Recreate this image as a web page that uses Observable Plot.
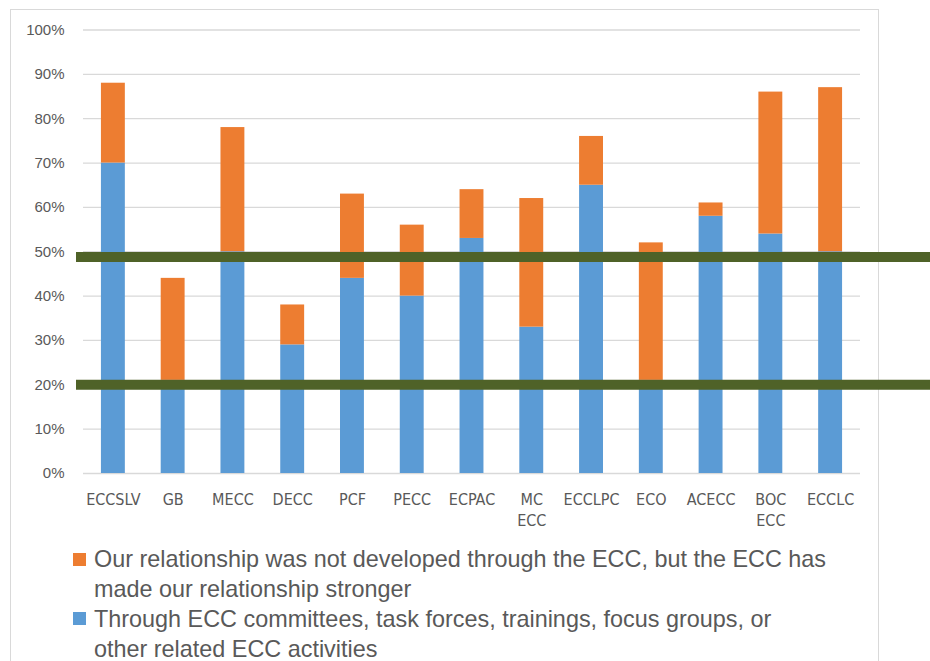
<!DOCTYPE html>
<html>
<head>
<meta charset="utf-8">
<script src="https://cdn.jsdelivr.net/npm/d3@7"></script>
<script src="https://cdn.jsdelivr.net/npm/@observablehq/plot@0.6"></script>
<style>
  body { margin: 0; background: #fff; }
  #wrap { position: relative; width: 930px; height: 661px; overflow: hidden; background: #fff; }
  #border { position: absolute; left: 10px; top: 9px; width: 867px; height: 700px; border: 1px solid #d9d9d9; }
  #chart { position: absolute; left: 0; top: 0; }
  #legend { position: absolute; left: 73px; top: 543.5px; font-family: "Liberation Sans", Arial, sans-serif; font-size: 23.4px; line-height: 30px; color: #595959; white-space: nowrap; }
  .item { position: relative; padding-left: 21px; }
  .sw { position: absolute; left: 0; width: 13px; height: 13px; }
</style>
</head>
<body>
<div id="wrap">
  <div id="border"></div>
  <div id="chart"></div>
  <div id="legend"></div>
</div>
<script>
const categories = ["ECCSLV", "GB", "MECC", "DECC", "PCF", "PECC", "ECPAC", "MC\nECC", "ECCLPC", "ECO", "ACECC", "BOC\nECC", "ECCLC"];
const throughECC = [70, 21, 50, 29, 44, 40, 53, 33, 65, 21, 58, 54, 50];
const madeStronger = [18, 23, 28, 9, 19, 16, 11, 29, 11, 31, 3, 32, 37];
const seriesNames = [
  "Through ECC committees, task forces, trainings, focus groups, or other related ECC activities",
  "Our relationship was not developed through the ECC, but the ECC has made our relationship stronger"
];
const seriesColors = ["#5b9bd5", "#ed7d31"];
const yTicks = [0, 10, 20, 30, 40, 50, 60, 70, 80, 90, 100];
const thresholds = [48.8, 20];

const rows = [];
categories.forEach((c, i) => rows.push({cat: c, series: seriesNames[0], value: throughECC[i]}));
categories.forEach((c, i) => rows.push({cat: c, series: seriesNames[1], value: madeStronger[i]}));

const chart = Plot.plot({
  width: 930,
  height: 540,
  marginLeft: 83,
  marginRight: 70,
  marginTop: 29.5,
  marginBottom: 67,
  x: {domain: categories, paddingInner: 0.6, paddingOuter: 0.3, round: false, axis: null, label: null},
  y: {domain: [0, 100], axis: null, label: null},
  color: {domain: seriesNames, range: seriesColors},
  marks: [
    Plot.gridY(yTicks, {stroke: "#d9d9d9", strokeOpacity: 1, strokeWidth: 1.3}),
    Plot.axisY(yTicks, {
      label: null, tickSize: 0, tickPadding: 19, tickFormat: d => d + "%",
      fontSize: 15, fontFamily: "Liberation Sans, Arial, sans-serif", fill: "#595959"
    }),
    Plot.axisX({
      label: null, tickSize: 0, tickPadding: 16, lineHeight: 1.35,
      fontSize: 16, fontFamily: "DejaVu Sans Condensed, sans-serif", fill: "#595959"
    }),
    Plot.barY(rows, {x: "cat", y: "value", fill: "series"}),
    Plot.ruleY(thresholds, {stroke: "#4f6228", strokeWidth: 10, insetLeft: -7, insetRight: -70})
  ]
});
document.getElementById("chart").appendChild(chart);

const legend = document.getElementById("legend");
const legendItems = [
  {color: seriesColors[1], lines: ["Our relationship was not developed through the ECC, but the ECC has", "made our relationship stronger"], top: 9},
  {color: seriesColors[0], lines: ["Through ECC committees, task forces, trainings, focus groups, or", "other related ECC activities"], top: 8}
];
legendItems.forEach(it => {
  const d = document.createElement("div");
  d.className = "item";
  const sw = document.createElement("span");
  sw.className = "sw";
  sw.style.background = it.color;
  sw.style.top = it.top + "px";
  d.appendChild(sw);
  it.lines.forEach((l, i) => {
    if (i) d.appendChild(document.createElement("br"));
    d.appendChild(document.createTextNode(l));
  });
  legend.appendChild(d);
});
</script>
</body>
</html>
